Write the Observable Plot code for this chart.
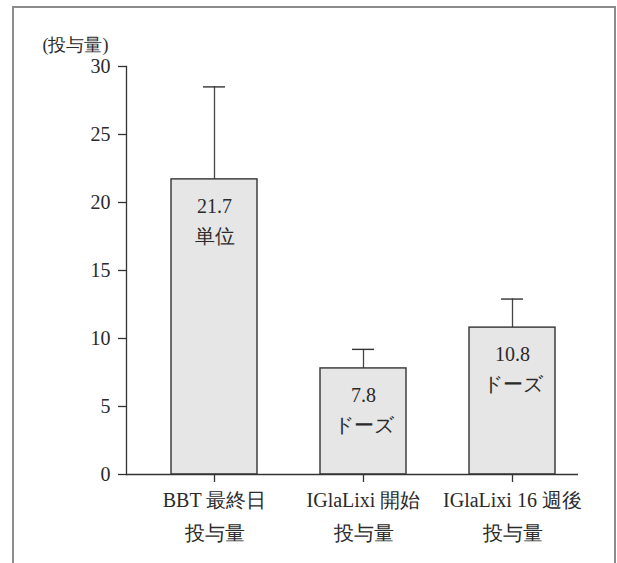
<!DOCTYPE html>
<html>
<head>
<meta charset="utf-8">
<script src="https://cdn.jsdelivr.net/npm/d3@7"></script>
<script src="https://cdn.jsdelivr.net/npm/@observablehq/plot@0.6"></script>
<style>
  body { margin: 0; background: #fff; }
  #wrap { position: relative; width: 617px; height: 563px; overflow: hidden; }
  #border {
    position: absolute; left: 12px; top: 6px; width: 604px; height: 620px;
    border: 2px solid #8c8c8c; border-bottom: none; box-sizing: border-box;
  }
  #chart { position: absolute; left: 0; top: 0; }
</style>
</head>
<body>
<div id="wrap">
  <div id="border"></div>
  <div id="chart"></div>
</div>
<script>
// Dose groups (first and second line of each x label)
const groups = ["BBT 最終日", "IGlaLixi 開始", "IGlaLixi 16 週後"];
const groupSub = ["投与量", "投与量", "投与量"];
// Mean dose and standard deviation per group
const means = [21.7, 7.8, 10.8];
const sds = [6.8, 1.4, 2.1];
const units = ["単位", "ドーズ", "ドーズ"];
const yTicks = [0, 5, 10, 15, 20, 25, 30];
const yLabel = "(投与量)";

const data = groups.map((g, i) => ({
  group: g,
  sub: groupSub[i],
  mean: means[i],
  top: means[i] + sds[i],
  unit: units[i]
}));
const subOf = new Map(data.map(d => [d.group, d.sub]));

const ink = "#2a2a2a";
const font = { fontFamily: "Liberation Serif", fontWeight: 300, fontSize: 20 };

const chart = Plot.plot({
  width: 617,
  height: 563,
  marginLeft: 126,
  marginRight: 39,
  marginTop: 66,
  marginBottom: 89,
  style: { fontSize: "20px", color: ink, background: "transparent" },
  x: { domain: groups, paddingInner: 0.42, paddingOuter: 0.225, align: 0.67, label: null },
  y: { domain: [0, 30], label: null },
  marks: [
    // error bars (mean to mean + SD) with caps
    Plot.ruleX(data, { x: "group", y1: "mean", y2: "top", stroke: "#444", strokeWidth: 1.3 }),
    Plot.tickY(data, { x: "group", y: "top", stroke: "#333", strokeWidth: 1.4, inset: 32 }),
    // bars
    Plot.barY(data, { x: "group", y: "mean", fill: "#e6e6e7", stroke: "#333", strokeWidth: 1.4 }),
    // value and unit inside each bar
    Plot.text(data, {
      x: "group", y: "mean",
      text: d => `${d.mean}\n${d.unit}`,
      lineAnchor: "top", dy: 12, lineHeight: 1.5, fill: ink, ...font
    }),
    // axes
    Plot.ruleY([0], { stroke: "#333", strokeWidth: 1.3 }),
    Plot.frame({ anchor: "left", stroke: "#333", strokeWidth: 1.3 }),
    Plot.axisY({
      ticks: yTicks, tickSize: 8, tickPadding: 8, stroke: "#333", strokeWidth: 1.3,
      label: null, fill: ink, ...font
    }),
    Plot.axisX({
      tickSize: 8, tickPadding: 1, stroke: "#333", strokeWidth: 1.3, label: null, fill: ink,
      lineHeight: 1.65, ...font,
      tickFormat: g => `${g}\n${subOf.get(g)}`
    }),
    // y-axis title
    Plot.text([yLabel], {
      frameAnchor: "top-left", dx: -84, dy: -21,
      textAnchor: "start", lineAnchor: "middle", fill: ink, ...font, fontSize: 18
    })
  ]
});

document.getElementById("chart").append(chart);
</script>
</body>
</html>
